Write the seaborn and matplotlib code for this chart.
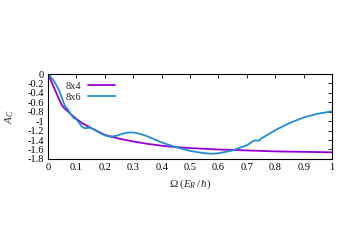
import numpy as np
import pandas as pd
import matplotlib
matplotlib.use("Agg")
import matplotlib.pyplot as plt
import seaborn as sns

x_8x4 = [0, 0.01, 0.02, 0.03, 0.04, 0.05, 0.06, 0.07, 0.08, 0.1, 0.12, 0.15,
         0.2, 0.25, 0.3, 0.35, 0.4, 0.45, 0.5, 0.6, 0.7, 0.8, 0.9, 1.0]
y_8x4 = [0, -0.13, -0.27, -0.41, -0.55, -0.67, -0.74, -0.79, -0.85, -0.95, -1.04, -1.14,
         -1.29, -1.37, -1.43, -1.48, -1.52, -1.55, -1.57, -1.60, -1.62, -1.64, -1.65, -1.66]

x_8x6 = [0, 0.01, 0.02, 0.03, 0.04, 0.05, 0.06, 0.07, 0.08, 0.09, 0.1, 0.11, 0.12,
         0.13, 0.14, 0.15, 0.16, 0.18, 0.2, 0.22, 0.24, 0.26, 0.28, 0.3, 0.32, 0.35,
         0.4, 0.45, 0.5, 0.55, 0.58, 0.6, 0.65, 0.7, 0.72, 0.725, 0.745, 0.75, 0.8,
         0.85, 0.9, 0.95, 1.0]
y_8x6 = [0, -0.06, -0.14, -0.24, -0.36, -0.52, -0.68, -0.75, -0.85, -0.93, -0.96, -1.04, -1.12,
         -1.15, -1.14, -1.14, -1.17, -1.24, -1.30, -1.33, -1.31, -1.27, -1.24, -1.24, -1.26, -1.32,
         -1.45, -1.55, -1.63, -1.68, -1.69, -1.68, -1.62, -1.51, -1.43, -1.41, -1.41, -1.37, -1.19,
         -1.04, -0.92, -0.84, -0.79]

labels = ["8x4", "8x6"]
colors = ["#9400d3", "#1f8fcf"]

df = pd.concat([
    pd.DataFrame({"x": x_8x4, "y": y_8x4, "series": labels[0]}),
    pd.DataFrame({"x": x_8x6, "y": y_8x6, "series": labels[1]}),
])

sns.set_style("white")
plt.rcParams["font.family"] = ["Liberation Serif", "DejaVu Serif"]
plt.rcParams["mathtext.fontset"] = "custom"
plt.rcParams["mathtext.rm"] = "Liberation Serif"
plt.rcParams["mathtext.it"] = "Liberation Serif:italic"

fig = plt.figure(figsize=(3.5, 2.46), dpi=100)
ax = fig.add_axes([0.137, 0.354, 0.812, 0.345])

sns.lineplot(data=df, x="x", y="y", hue="series", palette=colors, ax=ax,
             linewidth=1.3, sort=False, estimator=None)

ax.set_xlim(0, 1)
ax.set_ylim(-1.8, 0)
ax.set_xticks(np.arange(0, 1.01, 0.1))
ax.set_xticklabels(["0", "0.1", "0.2", "0.3", "0.4", "0.5", "0.6", "0.7", "0.8", "0.9", "1"])
ax.set_yticks(np.arange(-1.8, 0.01, 0.2))
ax.set_yticklabels(["-1.8", "-1.6", "-1.4", "-1.2", "-1", "-0.8", "-0.6", "-0.4", "-0.2", "0"])
ax.tick_params(direction="in", top=True, right=True, length=3, width=0.6,
               labelsize=7.5, pad=3, colors="black")
for s in ax.spines.values():
    s.set_color("black")
    s.set_linewidth(0.8)

ax.set_xlabel(r"$\Omega\;(E_R\,/\,\hbar)$", fontsize=8)
ax.set_ylabel(r"$A_C$", fontsize=8, labelpad=8)

leg = ax.legend(loc="upper left", bbox_to_anchor=(0.03, 1.02), frameon=False,
                markerfirst=False, fontsize=7.5, handlelength=2.6,
                handletextpad=0.6, labelspacing=0.15, title=None)

fig.savefig("out.png", dpi=100)
